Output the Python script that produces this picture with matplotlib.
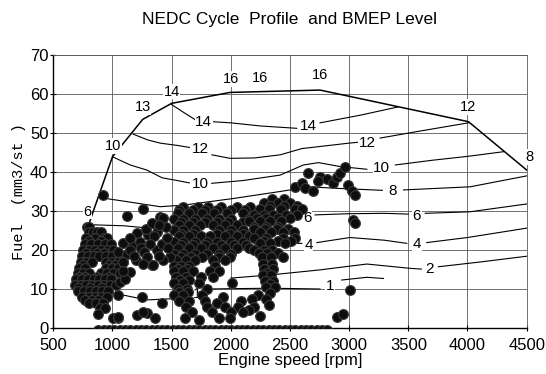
import matplotlib
matplotlib.use("Agg")
import matplotlib.pyplot as plt

plt.rcParams["font.family"] = ["Liberation Sans", "DejaVu Sans"]

# full-load envelope (rpm, fuel mm3/st)
full_load_rpm = [800, 827, 1000, 1256, 1500, 1994, 2754, 4008, 4500]
full_load_fuel = [26.5, 29.0, 43.9, 53.5, 57.6, 60.4, 61.0, 52.9, 40.5]

# BMEP labels along the envelope
env_labels = ["6", "10", "13", "14", "16", "16", "16", "12", "8"]
env_label_rpm = [790, 1002, 1255, 1500, 2002, 2247, 2754, 4008, 4520]
env_label_fuel = [29.8, 46.7, 56.7, 60.6, 63.8, 64.0, 64.9, 56.7, 43.9]

# iso-BMEP lines, split where the inline labels sit
c14 = [[(1500, 57.3), (1600, 55.3), (1700, 53.4)],
       [(1840, 52.9), (2000, 52.6), (2250, 51.8), (2557, 51.2)],
       [(2754, 52.6), (3100, 54.6), (3416, 56.7)]]
c12 = [[(1175, 49.7), (1300, 48.2), (1403, 47.4), (1550, 46.8), (1650, 46.3)],
       [(1840, 44.4), (1994, 43.5), (2200, 43.6), (2417, 44.4), (2600, 46.0),
        (3000, 47.4), (3070, 47.6)],
       [(3262, 48.7), (3600, 50.5), (4008, 52.6)]]
c10 = [[(1000, 43.9), (1150, 41.8), (1290, 40.5), (1420, 38.5), (1514, 38.0),
        (1650, 37.2)],
       [(1839, 37.1), (2100, 37.8), (2417, 39.2), (2613, 41.8), (2740, 42.4),
        (2923, 41.4), (3149, 40.7)],
       [(3390, 41.8), (3700, 43.0), (4000, 44.0), (4304, 45.2)]]
c8 = [[(880, 33.5), (1100, 32.5), (1403, 31.1), (1600, 31.5), (2021, 33.2),
       (2417, 35.0), (2670, 36.2), (2900, 35.8), (3280, 35.3)],
      [(3460, 35.4), (4022, 36.2), (4500, 39.0)]]
c6 = [[(790, 26.5), (1100, 26.2), (1487, 25.1), (1700, 25.5), (2000, 26.5),
       (2300, 27.5), (2580, 28.0)],
      [(2712, 29.0), (3000, 29.3), (3300, 29.4), (3500, 29.2)],
      [(3643, 29.4), (4022, 29.8), (4500, 31.8)]]
c4 = [[(2200, 21.5), (2600, 21.7)],
      [(2727, 21.9), (3007, 23.2), (3300, 22.5), (3487, 21.7)],
      [(3656, 21.9), (4000, 23.2), (4500, 25.6)]]
c2 = [[(2000, 12.8), (2332, 13.6), (2754, 14.9), (3149, 16.4), (3515, 15.3),
       (3610, 15.1)],
      [(3754, 15.7), (4100, 16.9), (4500, 18.4)]]
c1 = [[(1000, 9.0), (1290, 7.2), (1500, 7.5), (1650, 8.2)],
      [(1800, 10.0), (2332, 10.2), (2754, 10.0)],
      [(2937, 12.3), (3149, 13.0), (3290, 12.7)]]

inline_labels = ["14", "14", "12", "12", "10", "10", "8", "6", "6", "4", "4",
                 "2", "1", "1"]
inline_rpm = [1770, 2655, 1745, 3150, 1745, 3276, 3365, 2650, 3572, 2656, 3572,
              3680, 1712, 2838]
inline_fuel = [52.8, 51.8, 46.0, 47.4, 37.0, 40.9, 35.0, 28.2, 28.7, 21.3, 21.5,
               15.1, 8.7, 10.8]

# NEDC operating points, rows of (fuel, [rpm, ...])
idle_rows = [
    (34.1, [917]),
    (26.0, [782, 805]),
    (24.5, [800, 835, 870, 900]),
    (23.0, [775, 850, 925, 955]),
    (22.2, [800, 900]),
    (21.5, [765, 820, 875, 935, 985]),
    (20.0, [755, 800, 850, 900, 960, 1005]),
    (19.2, [780, 870, 930]),
    (18.5, [745, 790, 840, 890, 945, 995, 1060]),
    (17.0, [730, 780, 830, 945, 995, 1045, 1090]),
    (16.2, [750, 970, 1020]),
    (15.5, [720, 770, 945, 995, 1045]),
    (14.0, [705, 750, 800, 905, 955, 1005, 1060]),
    (13.2, [720, 770, 870, 970]),
    (12.5, [690, 740, 790, 840, 890, 940, 990]),
    (11.0, [685, 730, 780, 830, 880, 930, 980, 1030]),
    (10.2, [710, 810, 910]),
    (9.5, [710, 760, 810, 860, 910, 960]),
    (8.0, [740, 800, 850, 905, 950]),
    (7.2, [770, 830, 880]),
    (6.5, [800, 860, 920]),
    (5.0, [895, 935]),
    (3.5, [880]),
    (2.5, [1005, 1050]),
]

mid_pts = [(1120, 28.7), (1261, 30.4), (1402, 28.5), (1430, 28.1), (1092, 21.7),
           (1205, 24.3), (1176, 21.3), (1303, 23.8), (1374, 24.7), (1355, 23.5),
           (1233, 22.1), (1050, 19.6), (1120, 19.1), (1150, 20.0), (1240, 20.5),
           (1270, 19.5), (1374, 20.0), (1290, 18.3), (1332, 16.2), (1345, 16.2),
           (1487, 18.3), (1092, 17.0), (1148, 14.4), (1064, 11.9), (1050, 8.5),
           (1247, 8.0), (1416, 6.3), (1205, 3.3), (1290, 3.8), (1360, 2.5),
           (1261, 4.2), (1050, 2.9), (1420, 21.5), (1450, 26.0), (1200, 17.5),
           (1320, 21.5), (1150, 23.0), (1280, 25.5), (1330, 27.0), (1390, 26.5),
           (1460, 23.0), (1470, 20.5), (1430, 17.5), (1390, 18.5), (1180, 18.5),
           (1260, 16.5), (1110, 12.5), (1090, 14.5)]

main_rows = [
    (31.0, [1600, 1720, 1810, 1920, 2050, 2160]),
    (30.2, [1560, 1680, 1780, 1880, 2000, 2120]),
    (29.5, [1550, 1650, 1760, 1860, 1970, 2100, 2220]),
    (28.0, [1520, 1600, 1700, 1800, 1900, 2000, 2150]),
    (27.2, [1580, 1680, 1780, 1880, 1980, 2100]),
    (26.5, [1560, 1650, 1740, 1850, 1950, 2050, 2200]),
    (25.0, [1520, 1600, 1700, 1900, 2000, 2100]),
    (24.2, [1580, 1680, 1880, 1990, 2100]),
    (23.5, [1560, 1650, 1750, 1820, 1950, 2050, 2150]),
    (22.0, [1520, 1600, 1700, 1800, 1880, 2000, 2100]),
    (21.2, [1580, 1680, 1780, 1920, 2030, 2130]),
    (20.5, [1550, 1650, 1750, 1850, 1950, 2050, 2150]),
    (19.0, [1520, 1600, 1700, 1800, 1900, 2000]),
    (18.2, [1580, 1660, 1760, 1900, 1990]),
    (17.5, [1540, 1620, 1700, 1850, 1950]),
    (16.0, [1520, 1580, 1650, 1870]),
    (15.2, [1550, 1630]),
    (14.5, [1520, 1600, 1680, 1820, 1900]),
    (13.0, [1540, 1620, 1750, 1850]),
    (12.2, [1570, 1650]),
    (11.5, [1520, 1600, 1730, 2010]),
    (10.0, [1550, 1630, 1800]),
    (9.2, [1560, 1640]),
    (8.5, [1520, 1600, 1760, 2230]),
    (8.0, [1930]),
    (7.5, [2180]),
    (7.0, [1560, 1650, 1780, 2090]),
    (6.5, [1880]),
    (5.5, [1620, 1800, 1950, 2060, 2200]),
    (4.5, [2150]),
    (4.0, [1670, 1840, 2000, 2100]),
    (3.0, [2250]),
    (2.5, [1610, 1900, 1990]),
    (2.0, [1730]),
]

right_rows = [
    (33.0, [2350, 2450]),
    (32.0, [2280, 2400, 2500]),
    (31.3, [2330, 2450, 2560]),
    (30.5, [2250, 2320, 2420, 2540, 2600]),
    (29.0, [2200, 2280, 2360, 2470, 2560]),
    (28.2, [2220, 2300, 2400, 2500]),
    (27.5, [2150, 2250, 2330, 2420]),
    (26.0, [2200, 2300, 2400]),
    (25.3, [2200, 2290, 2390, 2480]),
    (24.7, [2250, 2340, 2445, 2530]),
    (23.0, [2200, 2300, 2440, 2543]),
    (22.3, [2280, 2400, 2510]),
    (21.7, [2250, 2330, 2459]),
    (20.0, [2200, 2280, 2350]),
    (19.2, [2240, 2310, 2400]),
    (18.3, [2260, 2340, 2445]),
    (16.5, [2270, 2350]),
    (15.0, [2280, 2360]),
    (14.2, [2310]),
    (13.5, [2270, 2340]),
    (12.0, [2290, 2360]),
    (11.2, [2330]),
    (10.5, [2300, 2370]),
    (9.0, [2330]),
    (7.5, [2300]),
    (6.0, [2320]),
]

high_pts = [(2656, 39.8), (2754, 38.8), (2811, 38.1), (2867, 37.1), (2900, 38.6),
            (2923, 39.7), (2966, 41.2), (2543, 36.2), (2600, 37.1), (2628, 35.8),
            (2698, 35.0), (2740, 37.6), (2994, 36.7), (3022, 35.0), (3050, 34.1),
            (3036, 27.7), (3050, 26.8), (3008, 9.7), (2896, 2.9), (2952, 3.5)]

# motoring / zero-fuel points sitting on the axis
zero_rpm = [880, 925, 970, 1015, 1060, 1105, 1150, 1195, 1240, 1285, 1330,
            1375, 1420, 1465, 1510, 1555, 1600, 1645, 1690, 1735, 1780, 1825,
            1870, 1915, 1960, 2005, 2050, 2095, 2140, 2185, 2230, 2275, 2320,
            2365, 2410, 2455, 2500, 2545, 2590, 2635, 2680, 2725, 2770, 2815]
zero_fuel = -0.4

xs, ys = [], []
for rows in (idle_rows, main_rows, right_rows):
    for fuel, rpms in rows:
        xs += rpms
        ys += [fuel] * len(rpms)
for pts in (mid_pts, high_pts):
    xs += [p[0] for p in pts]
    ys += [p[1] for p in pts]
xs += zero_rpm
ys += [zero_fuel] * len(zero_rpm)

fig = plt.figure(figsize=(5.46, 3.74), dpi=100)
ax = fig.add_axes([0.0976, 0.123, 0.867, 0.730])

ax.set_xlim(500, 4500)
ax.set_ylim(0, 70)
ax.set_xticks(range(500, 4501, 500))
ax.set_yticks(range(0, 71, 10))
ax.grid(True, color="0.35", linewidth=0.6, zorder=0)
ax.tick_params(direction="inout", length=5, width=0.8, labelsize=12)
ax.tick_params(axis="x", pad=4.5)
ax.tick_params(axis="y", pad=1)
for side in ("top", "right"):
    ax.spines[side].set_linewidth(0.6)
    ax.spines[side].set_color("0.35")
for side in ("left", "bottom"):
    ax.spines[side].set_linewidth(1.0)

ax.plot(full_load_rpm, full_load_fuel, color="black", linewidth=1.1, zorder=3)
for lab, x, y in zip(env_labels, env_label_rpm, env_label_fuel):
    ax.text(x, y, lab, ha="center", va="center", fontsize=10.5, zorder=5,
            clip_on=False,
            bbox=dict(facecolor="white", edgecolor="none", pad=0.5))

for level in (c14, c12, c10, c8, c6, c4, c2, c1):
    for seg in level:
        ax.plot([p[0] for p in seg], [p[1] for p in seg], color="black",
                linewidth=0.8, zorder=2)
for lab, x, y in zip(inline_labels, inline_rpm, inline_fuel):
    ax.text(x, y, lab, ha="center", va="center", fontsize=11, zorder=3,
            bbox=dict(facecolor="white", edgecolor="none", pad=0.3))

ax.scatter(xs, ys, s=50, facecolor="#0d0d0d", edgecolor="#3a3a3a",
           linewidth=0.8, zorder=4)

ax.set_title("NEDC Cycle  Profile  and BMEP Level", fontsize=12.5, pad=22)
ax.set_xlabel("Engine speed [rpm]", fontsize=12, labelpad=0)
ax.set_ylabel("Fuel  (mm3/st )", fontsize=11, labelpad=3,
              family=["Liberation Mono", "DejaVu Sans Mono"])

fig.savefig("out.png", dpi=100)
